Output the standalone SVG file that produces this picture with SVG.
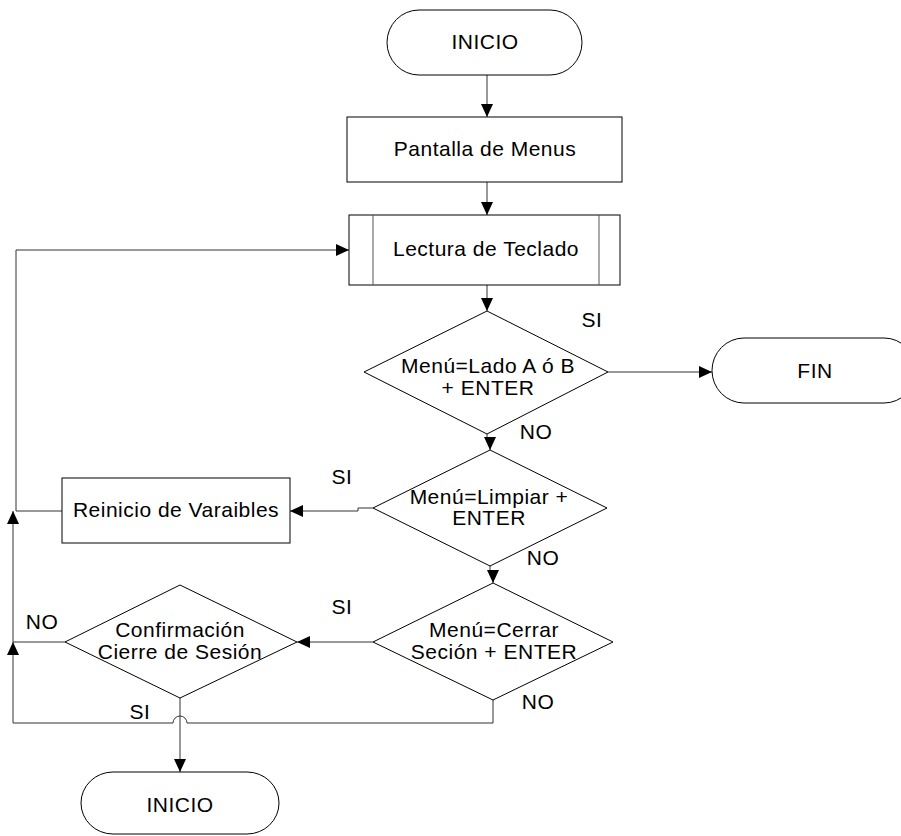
<svg xmlns="http://www.w3.org/2000/svg" width="901" height="836" viewBox="0 0 901 836">
  <defs>
    <marker id="arrow" markerUnits="userSpaceOnUse" markerWidth="14" markerHeight="13" refX="13" refY="6" orient="auto">
      <path d="M0,0 L13,6 L0,12 Z" fill="#000"/>
    </marker>
    <style>
      .shape { fill: #fff; stroke: #000; stroke-width: 1; }
      .inner { fill: none; stroke: #555; stroke-width: 1; }
      .conn { fill: none; stroke: #333; stroke-width: 1; }
      .arr { marker-end: url(#arrow); }
      text { font-family: "Liberation Sans", Arial, sans-serif; font-size: 21px; letter-spacing: 0.5px; fill: #000; text-anchor: middle; }
    </style>
  </defs>
  <rect width="901" height="836" fill="#fff"/>

  <!-- connectors -->
  <g id="connectors">
    <path class="conn arr" d="M487,75 V117"/>
    <path class="conn arr" d="M487,182 V215"/>
    <path class="conn arr" d="M487,285 V311"/>
    <path class="conn arr" d="M608,372 H712"/>
    <path class="conn arr" d="M487,434 V442 H490 V450"/>
    <path class="conn arr" d="M373,508 H358 V511 H290"/>
    <path class="conn arr" d="M62,511 H16 V250 H349"/>
    <path class="conn arr" d="M490,566 V575 H493 V583"/>
    <path class="conn arr" d="M373,642 H297"/>
    <path class="conn arr" d="M65,642 H13 V511"/>
    <path class="conn arr" d="M493,700 V723 H187 A7,7 0 0 0 173,723 H13 V642"/>
    <path class="conn arr" d="M180,698 V772"/>
  </g>

  <!-- labels on branches -->
  <g id="branch-labels">
    <text x="592" y="327">SI</text>
    <text x="536" y="439">NO</text>
    <text x="342" y="484">SI</text>
    <text x="543" y="565">NO</text>
    <text x="342" y="614">SI</text>
    <text x="538" y="709">NO</text>
    <text x="42" y="629">NO</text>
    <text x="140" y="719">SI</text>
  </g>

  <g id="inicio">
    <rect class="shape" x="387" y="10" width="195" height="65" rx="32" ry="32.5"/>
    <text x="485" y="49">INICIO</text>
  </g>

  <g id="pantalla">
    <rect class="shape" x="347" y="117" width="275" height="65"/>
    <text x="485" y="156">Pantalla de Menus</text>
  </g>

  <g id="lectura">
    <rect class="shape" x="349" y="215" width="271" height="70"/>
    <line class="inner" x1="373" y1="215" x2="373" y2="285"/>
    <line class="inner" x1="599" y1="215" x2="599" y2="285"/>
    <text x="486" y="256">Lectura de Teclado</text>
  </g>

  <g id="decision-lado">
    <polygon class="shape" points="487,311 608,372 487,434 364,372"/>
    <text x="488" y="373">Menú=Lado A ó B</text>
    <text x="488" y="395">+ ENTER</text>
  </g>

  <g id="fin">
    <rect class="shape" x="712" y="338" width="204" height="65" rx="32" ry="32.5"/>
    <text x="815" y="378">FIN</text>
  </g>

  <g id="decision-limpiar">
    <polygon class="shape" points="490,450 607,508 490,566 373,508"/>
    <text x="489" y="504">Menú=Limpiar +</text>
    <text x="489" y="525">ENTER</text>
  </g>

  <g id="reinicio">
    <rect class="shape" x="62" y="478" width="228" height="65"/>
    <text x="176" y="517">Reinicio de Varaibles</text>
  </g>

  <g id="decision-cerrar">
    <polygon class="shape" points="493,583 613,642 493,700 373,642"/>
    <text x="494" y="637">Menú=Cerrar</text>
    <text x="494" y="659">Seción + ENTER</text>
  </g>

  <g id="confirmacion">
    <polygon class="shape" points="180,585 297,642 180,698 65,642"/>
    <text x="180" y="637">Confirmación</text>
    <text x="180" y="659">Cierre de Sesión</text>
  </g>

  <g id="inicio-final">
    <rect class="shape" x="81" y="772" width="198" height="62" rx="32" ry="31"/>
    <text x="180" y="812">INICIO</text>
  </g>
</svg>
